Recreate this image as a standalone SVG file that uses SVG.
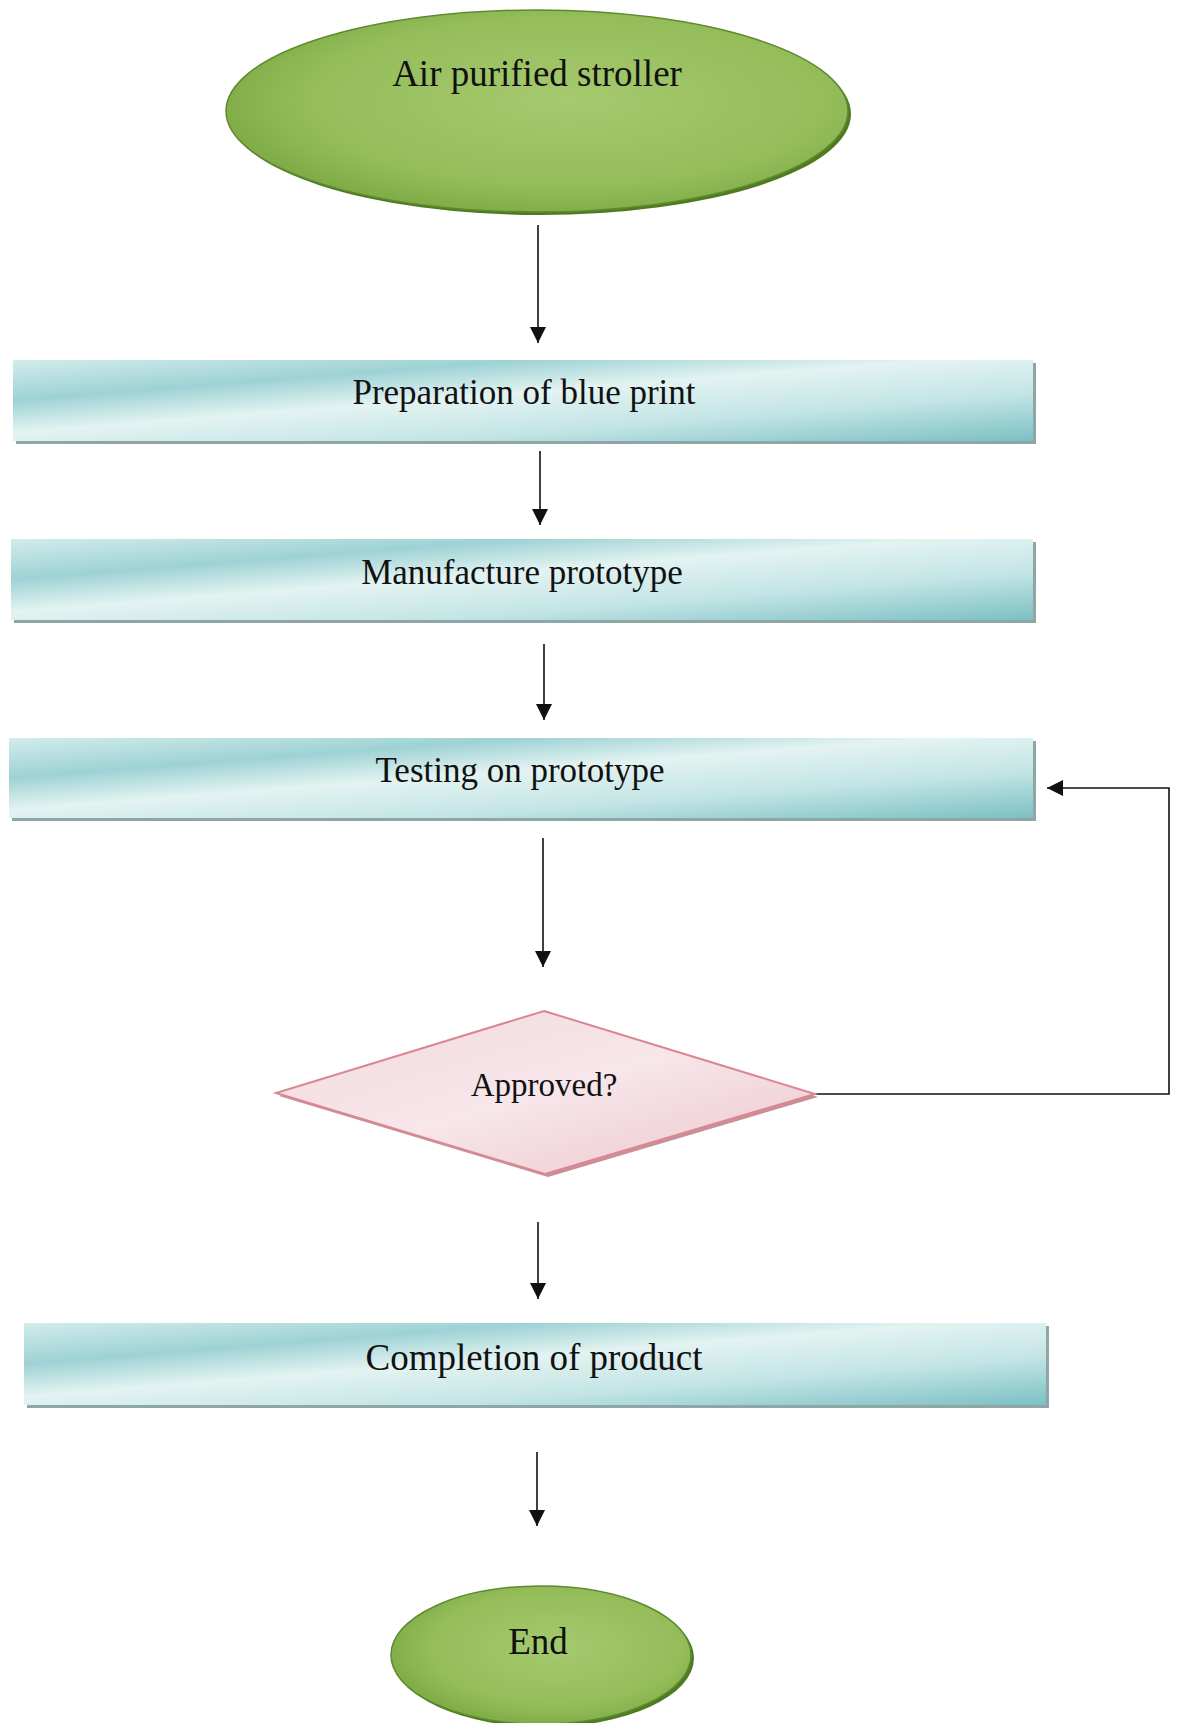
<svg xmlns="http://www.w3.org/2000/svg" width="1178" height="1723" viewBox="0 0 1178 1723">
<style>
.lbl{font-family:"Liberation Serif","Times New Roman",serif;fill:#111;text-anchor:middle;}
.conn{stroke:#111;stroke-width:1.6;fill:none;}
.bar{fill:url(#teal);}
.barShadow{fill:#8ea6a6;}
.oval{fill:url(#green);stroke:#5e8a2e;stroke-width:1.5;}
.ovalShadow{fill:#4f7a22;}
</style>
<defs>
<linearGradient id="teal" x1="0" y1="0" x2="1" y2="1">
<stop offset="0" stop-color="#d2ecec"/>
<stop offset="0.25" stop-color="#9ed2d4"/>
<stop offset="0.45" stop-color="#e3f3f2"/>
<stop offset="0.7" stop-color="#c4e5e5"/>
<stop offset="1" stop-color="#7cc0c4"/>
</linearGradient>
<radialGradient id="green" cx="0.55" cy="0.45" r="0.6">
<stop offset="0" stop-color="#a6c96e"/>
<stop offset="0.7" stop-color="#94bd5a"/>
<stop offset="1" stop-color="#7aa843"/>
</radialGradient>
<linearGradient id="pink" x1="0" y1="0" x2="1" y2="1">
<stop offset="0" stop-color="#f3d9de"/>
<stop offset="0.5" stop-color="#f7e6ea"/>
<stop offset="1" stop-color="#ebc4cb"/>
</linearGradient>
<marker id="arr" markerUnits="userSpaceOnUse" markerWidth="18" markerHeight="16" refX="16" refY="8" orient="auto">
<path d="M0,0 L16,8 L0,16 Z" fill="#111"/>
</marker>
</defs>

<g id="connectors">
<line class="conn" x1="538" y1="225" x2="538" y2="343" marker-end="url(#arr)"/>
<line class="conn" x1="540" y1="451" x2="540" y2="525" marker-end="url(#arr)"/>
<line class="conn" x1="544" y1="644" x2="544" y2="720" marker-end="url(#arr)"/>
<line class="conn" x1="543" y1="838" x2="543" y2="967" marker-end="url(#arr)"/>
<path class="conn" d="M815 1094 H1169 V788 H1047" marker-end="url(#arr)"/>
<line class="conn" x1="538" y1="1222" x2="538" y2="1299" marker-end="url(#arr)"/>
<line class="conn" x1="537" y1="1452" x2="537" y2="1526" marker-end="url(#arr)"/>
</g>

<g id="start">
<ellipse class="ovalShadow" cx="540" cy="114" rx="311" ry="101"/>
<ellipse class="oval" cx="537" cy="111" rx="311" ry="101"/>
<text class="lbl" x="537" y="86" font-size="37">Air purified stroller</text>
</g>

<g id="blueprint">
<rect class="barShadow" x="16" y="363" width="1020" height="81"/>
<rect class="bar" x="13" y="360" width="1020" height="81"/>
<text class="lbl" x="524" y="404" font-size="35">Preparation of blue print</text>
</g>

<g id="manufacture">
<rect class="barShadow" x="14" y="542" width="1022" height="81"/>
<rect class="bar" x="11" y="539" width="1022" height="81"/>
<text class="lbl" x="522" y="584" font-size="35">Manufacture prototype</text>
</g>

<g id="testing">
<rect class="barShadow" x="12" y="741" width="1024" height="80"/>
<rect class="bar" x="9" y="738" width="1024" height="80"/>
<text class="lbl" x="520" y="782" font-size="35">Testing on prototype</text>
</g>

<g id="approved">
<polygon points="547,1014 818,1097 548,1177 279,1096" fill="#c98f98"/>
<polygon points="544,1011 815,1094 545,1174 276,1093" fill="url(#pink)" stroke="#d98892" stroke-width="2"/>
<text class="lbl" x="544" y="1096" font-size="33">Approved?</text>
</g>

<g id="completion">
<rect class="barShadow" x="27" y="1326" width="1022" height="82"/>
<rect class="bar" x="24" y="1323" width="1022" height="82"/>
<text class="lbl" x="534" y="1370" font-size="37">Completion of product</text>
</g>

<g id="end">
<ellipse class="ovalShadow" cx="544" cy="1658" rx="150" ry="69"/>
<ellipse class="oval" cx="541" cy="1655" rx="150" ry="69"/>
<text class="lbl" x="538" y="1654" font-size="37">End</text>
</g>
</svg>
